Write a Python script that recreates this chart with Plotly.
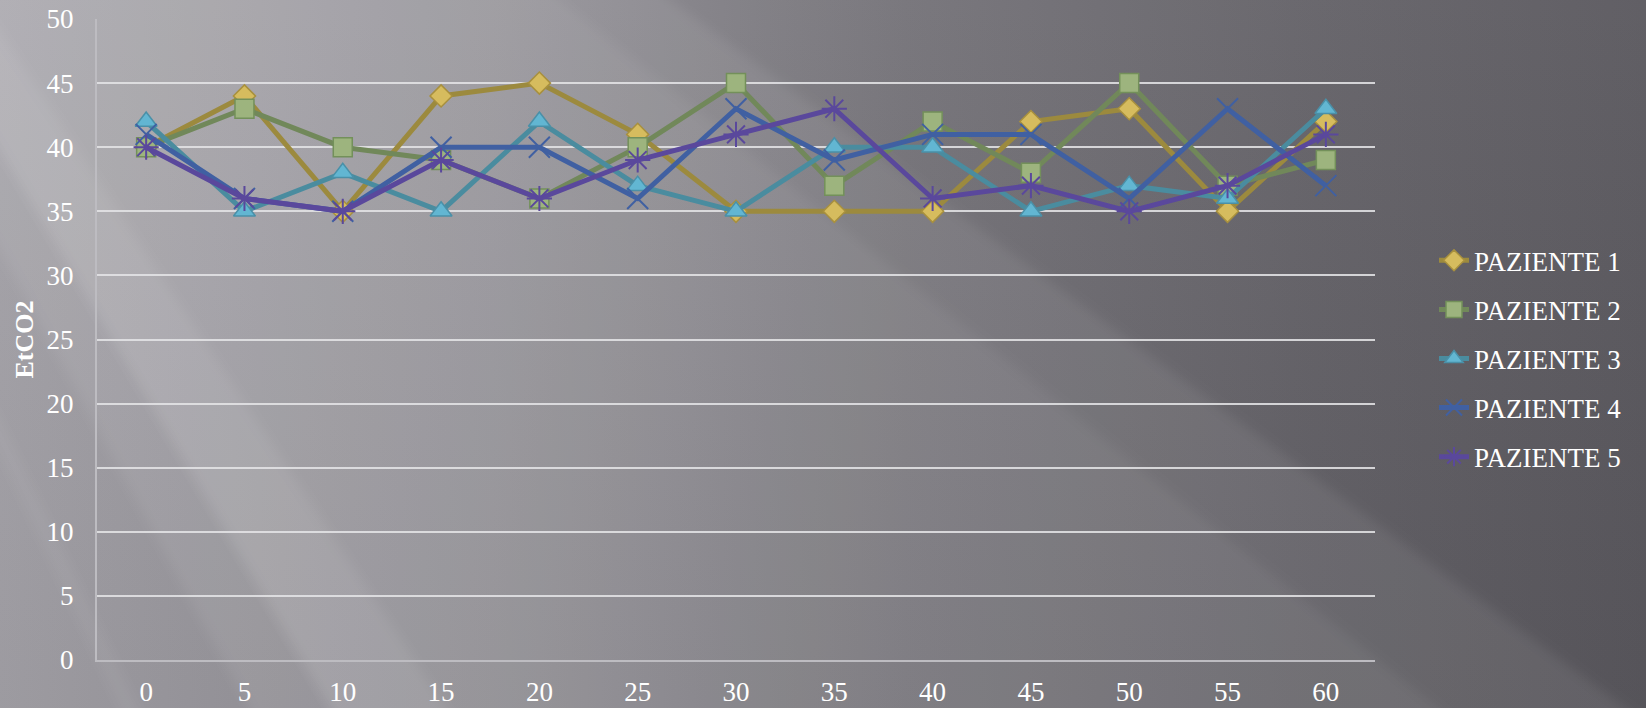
import base64
import plotly.graph_objects as go

# ---------------- data ----------------
minutes = ["0", "5", "10", "15", "20", "25", "30", "35", "40", "45", "50", "55", "60"]
paziente_1 = [40, 44, 35, 44, 45, 41, 35, 35, 35, 42, 43, 35, 42]
paziente_2 = [40, 43, 40, 39, 36, 40, 45, 37, 42, 38, 45, 37, 39]
paziente_3 = [42, 35, 38, 35, 42, 37, 35, 40, 40, 35, 37, 36, 43]
paziente_4 = [41, 36, 35, 40, 40, 36, 43, 39, 41, 41, 36, 43, 37]
paziente_5 = [40, 36, 35, 39, 36, 39, 41, 43, 36, 37, 35, 37, 41]
series_names = ["PAZIENTE 1", "PAZIENTE 2", "PAZIENTE 3", "PAZIENTE 4", "PAZIENTE 5"]
y_ticks = [0, 5, 10, 15, 20, 25, 30, 35, 40, 45, 50]

# ---------------- layout constants ----------------
W, H = 1646, 708
L, R, T, B = 97, 271, 19, 48
PW, PH = W - L - R, H - T - B
FONT = "Liberation Serif, Times New Roman, serif"

# ---------------- background (svg gradient + soft light rays) ----------------
sx, sy = -680, -1000  # virtual light source, top-left off canvas


def ray(p1, p2, op):
    def ext(p):
        dx, dy = p[0] - sx, p[1] - sy
        k = 4.0
        return (sx + dx * k, sy + dy * k)
    a, b = ext(p1), ext(p2)
    return (f'<polygon points="{sx},{sy} {a[0]:.0f},{a[1]:.0f} {b[0]:.0f},{b[1]:.0f}" '
            f'fill="white" fill-opacity="{op}" filter="url(#bl)"/>')


svg = f'''<svg xmlns="http://www.w3.org/2000/svg" width="{W}" height="{H}" viewBox="0 0 {W} {H}" preserveAspectRatio="none">
<defs>
<linearGradient id="g" x1="0" y1="0" x2="1" y2="0">
<stop offset="0" stop-color="#a3a1a7"/>
<stop offset="0.3" stop-color="#8e8c92"/>
<stop offset="0.55" stop-color="#737177"/>
<stop offset="0.8" stop-color="#626066"/>
<stop offset="1" stop-color="#59575d"/>
</linearGradient>
<linearGradient id="v" x1="0" y1="0" x2="0" y2="1">
<stop offset="0" stop-color="white" stop-opacity="0.05"/>
<stop offset="1" stop-color="black" stop-opacity="0.04"/>
</linearGradient>
<filter id="bl" x="-50%" y="-50%" width="200%" height="200%"><feGaussianBlur stdDeviation="6"/></filter>
</defs>
<rect width="{W}" height="{H}" fill="url(#g)"/>
<rect width="{W}" height="{H}" fill="url(#v)"/>
{ray((0, 250), (670, 0), 0.07)}
{ray((0, 150), (560, 0), 0.05)}
{ray((330, 708), (446, 708), 0.07)}
{ray((0, 420), (120, 708), 0.05)}
</svg>'''
bg_src = "data:image/svg+xml;base64," + base64.b64encode(svg.encode()).decode()

# ---------------- styles ----------------
styles = [
    dict(line="#9c8a3e", fill="#d6bc5e", edge="#a8903e", symbol="diamond", size=17),
    dict(line="#71885a", fill="#9db47e", edge="#73905a", symbol="square", size=19),
    dict(line="#4a8c9f", fill="#62b6d2", edge="#4a90a8", symbol="triangle-up", size=19),
    dict(line="#4060a2", fill="#4060a2", edge="#3f5ea8", symbol="x-thin-open", size=21),
    dict(line="#5a489c", fill="#5a489c", edge="#5a479e", symbol="asterisk-open", size=21),
]
all_series = [paziente_1, paziente_2, paziente_3, paziente_4, paziente_5]

fig = go.Figure()
for i, (name, vals, st) in enumerate(zip(series_names, all_series, styles)):
    open_sym = st["symbol"].endswith("-open")
    fig.add_trace(go.Scatter(
        x=minutes, y=vals, name=name, mode="lines+markers",
        legendgroup=name,
        line=dict(color=st["line"], width=5),
        marker=dict(symbol=st["symbol"], size=st["size"],
                    color=st["fill"],
                    line=dict(color=st["edge"], width=2 if open_sym else 1.5)),
    ))

fig.update_layout(
    width=W, height=H,
    margin=dict(l=L, r=R, t=T, b=B, pad=0, autoexpand=False),
    paper_bgcolor="#77757b",
    plot_bgcolor="rgba(0,0,0,0)",
    font=dict(family=FONT, color="white", size=27),
    images=[dict(source=bg_src, xref="paper", yref="paper",
                 x=-L / PW, y=1 + T / PH, sizex=W / PW, sizey=H / PH,
                 xanchor="left", yanchor="top", sizing="stretch", layer="below")],
    xaxis=dict(type="category", range=[-0.5, 12.5], showgrid=False,
               showline=True, linecolor="#bdbcc1", linewidth=2,
               ticks="", ticklabelstandoff=7, automargin=False,
               tickfont=dict(family=FONT, size=27, color="white"),
               zeroline=False, fixedrange=True),
    yaxis=dict(range=[0, 50], tickvals=y_ticks, showgrid=True,
               gridcolor="rgba(228,228,230,0.88)", gridwidth=2,
               showline=True, linecolor="#bdbcc1", linewidth=2,
               ticks="", ticklabelstandoff=16, automargin=False,
               tickfont=dict(family=FONT, size=27, color="white"),
               title=dict(text="<b>EtCO2</b>", standoff=5,
                          font=dict(family=FONT, size=26, color="white")),
               zeroline=False, fixedrange=True),
    legend=dict(x=(1434 - L) / PW, y=0.47, xanchor="left", yanchor="middle",
                bgcolor="rgba(0,0,0,0)", font=dict(family=FONT, size=27, color="white"),
                tracegroupgap=11, itemwidth=30),
    showlegend=True,
)

fig.write_html("out.html")
